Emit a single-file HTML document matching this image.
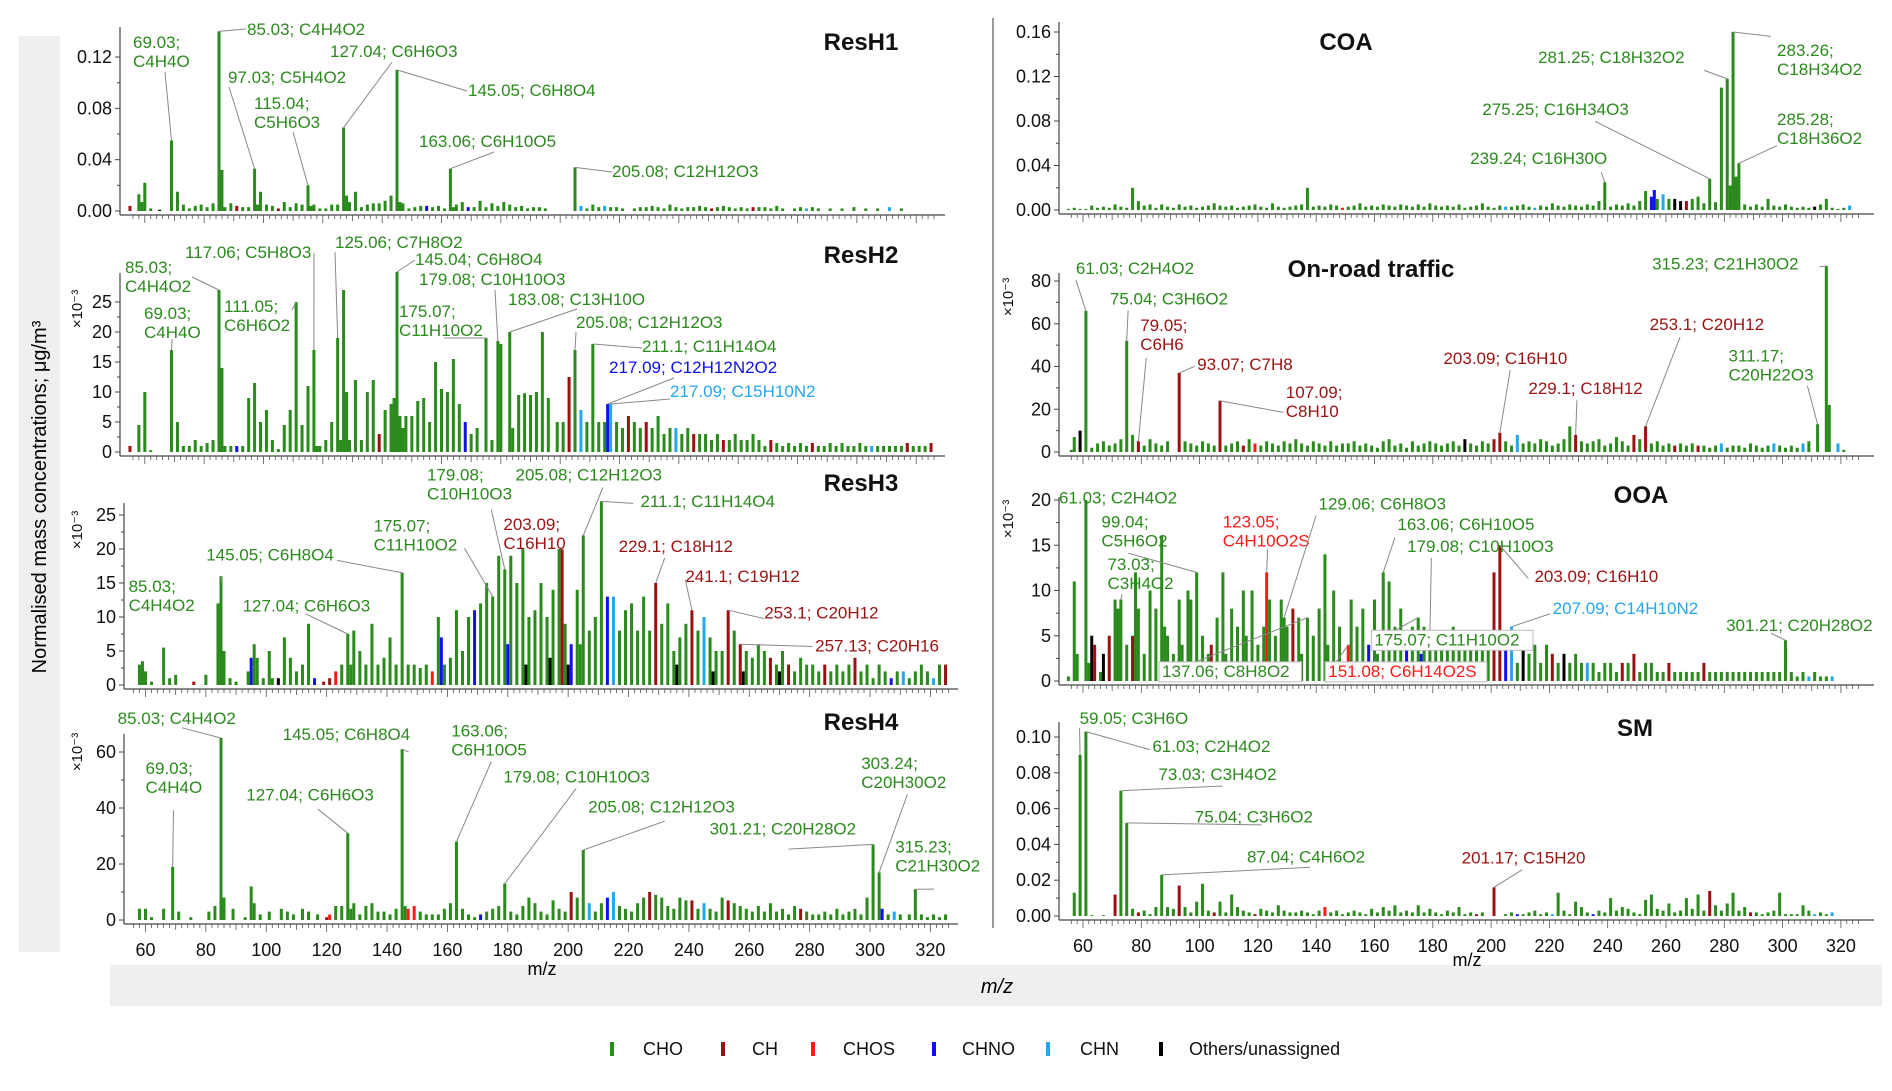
<!DOCTYPE html>
<html><head><meta charset="utf-8"><style>
html,body{margin:0;padding:0;background:#fff;}
svg{display:block;font-family:"Liberation Sans",sans-serif;}
</style></head><body>
<svg id="chart" width="1892" height="1091" viewBox="0 0 1892 1091" xmlns="http://www.w3.org/2000/svg">
<rect x="19" y="36" width="41" height="916" fill="#efefef"/>
<rect x="110" y="965" width="1772" height="41" fill="#efefef"/>
<line x1="993" y1="18" x2="993" y2="928" stroke="#999" stroke-width="2"/>
<text transform="translate(46,497) rotate(-90)" text-anchor="middle" font-size="20">Normalised mass concentrations; μg/m³</text>
<text x="542" y="975" text-anchor="middle" font-size="18">m/z</text>
<text x="1467" y="966" text-anchor="middle" font-size="18">m/z</text>
<text x="997" y="993" text-anchor="middle" font-size="20" font-style="italic">m/z</text>
<g id="panels"></g>
<g id="legend"></g>
</svg>
<script>
// ---------- data (values in panel display units; ResH1/COA/SM in 1e-3 μg/m3) ----------
const resh1Bars=[[55,4,'r'],[58,13],[59,7],[60,22],[62,2],[65,1,'k'],[69,55],[71,15],[73,5],[75,2],[77,4],[79,5],[81,3],[83,6],[85,140],[86,32],[87,3],[89,6],[91,4,'r'],[93,3],[95,3],[97,33],[98,5],[99,15],[101,5],[103,4],[105,2,'r'],[107,7],[109,3],[111,6],[113,5],[115,20],[116,4],[117,5],[119,2],[121,2],[123,5],[125,5],[127,65],[128,12],[129,7],[131,15],[133,3],[135,5],[137,6],[139,6],[141,8],[143,12],[145,110],[146,7],[147,6],[149,2],[151,3],[153,4],[155,4,'n'],[157,3],[159,4],[161,2],[163,33],[164,3],[165,5],[167,7],[169,3,'n'],[171,3],[173,8],[175,3],[177,6],[179,4],[181,7],[183,5],[185,3],[187,4],[189,2],[191,3],[193,3],[195,2],[205,34],[207,4,'h'],[209,2],[211,5],[213,3],[215,4,'h'],[217,3],[219,3],[221,2],[225,2],[227,3],[229,3],[231,4],[233,3],[235,2],[237,5],[239,3],[241,2],[243,3],[245,3],[247,4],[249,3],[251,2,'r'],[253,3],[255,4],[257,3],[259,2],[261,3],[263,2],[265,3,'r'],[267,3],[269,3],[271,2],[273,4],[275,2],[279,2],[281,3],[283,2,'h'],[285,3],[287,2],[291,2],[295,2],[299,3],[303,2],[307,2],[311,3,'h'],[315,2]];
const resh2Bars=[[55,1,'r'],[58,4.5],[60,10],[62,0.3],[69,17],[71,5],[73,1],[75,1],[77,2],[79,1],[81,1.5],[83,2],[85,27],[86,14],[87,1],[89,1],[91,1,'n'],[93,1],[95,9],[97,11.5],[99,5],[101,7],[103,2],[105,0.5],[107,4.5],[109,7],[111,25],[113,4.5],[115,11],[117,17],[118,1],[119,1],[121,2],[123,5],[125,19],[126,2],[127,27],[128,10],[129,2],[131,12],[133,2],[135,10],[137,12],[139,3,'r'],[141,7],[143,8],[144,9],[145,30],[146,6],[147,4],[148,6],[150,6],[152,8.5],[154,9],[156,5],[158,15],[160,10.5],[162,10],[164,15.5],[166,8],[168,5,'n'],[170,3],[172,4],[175,19],[177,2],[179,18.5],[180,18],[183,20],[184,4],[186,9.5],[188,9.8],[190,9.5],[192,10],[194,20],[196,9],[199,5],[201,5],[203,12.5,'r'],[205,17],[207,7,'h'],[209,5],[211,18],[213,5],[215,5],[216,8,'n'],[217,8,'h'],[219,5],[221,4],[223,6,'r'],[225,5],[227,4],[229,5,'r'],[231,4],[233,6],[235,3],[237,4],[239,4,'h'],[241,3],[243,4],[245,3,'r'],[247,3],[249,3],[251,2],[253,3],[255,2,'r'],[257,2],[259,3],[261,2],[263,2],[265,3],[267,2],[269,1],[271,2,'r'],[273,1.5],[275,1],[277,1.5],[279,1],[281,1.5],[283,1],[285,1.5,'r'],[287,1],[289,1],[291,1.5],[293,1],[295,1.5],[297,1],[299,1],[301,1.5],[303,1],[305,1,'h'],[307,1],[309,1],[311,1],[313,1],[315,1],[317,1.5,'r'],[319,1],[321,1],[323,1],[325,1.5,'r']];
const resh3Bars=[[58,3],[59,3.5],[60,2],[62,0.5],[66,5.5],[68,1],[70,1.5],[76,0.5,'r'],[80,1.5],[84,12],[85,16],[86,5],[88,1],[90,0.5],[94,2],[95,4,'n'],[96,6],[97,4],[99,1],[101,5],[102,1],[104,1,'k'],[106,7],[108,4],[110,2],[112,3],[114,9],[116,1,'n'],[119,0.5,'r'],[121,1,'r'],[123,2,'s'],[125,3],[127,7.5],[128,3],[129,8],[131,5],[133,3],[135,9],[137,3],[139,4],[141,7],[143,3],[145,16.5],[147,3],[149,3],[151,2.5],[153,3],[155,2,'s'],[157,10],[158,7,'n'],[159,3],[161,4],[163,11],[165,5],[167,10],[169,11,'n'],[171,12],[173,15],[175,13],[177,19],[179,17],[180,6,'n'],[181,19],[183,15],[185,20],[186,3,'k'],[187,10],[189,11],[191,15],[193,10],[194,4,'k'],[195,14],[197,20],[198,20,'r'],[199,9],[200,3,'k'],[201,6,'n'],[203,14],[204,6],[205,22],[207,8],[209,10],[211,27],[213,13,'n'],[215,13,'h'],[217,8],[219,11],[221,12],[223,8],[225,13],[227,8],[229,15,'r'],[231,9],[233,12],[235,5],[236,3,'k'],[237,7],[239,9],[241,11,'r'],[243,8],[245,10,'h'],[247,7],[248,2,'k'],[249,5],[251,5],[253,11,'r'],[255,8],[257,6,'r'],[258,2,'k'],[259,5],[261,4],[263,6],[265,5],[267,4,'r'],[269,3],[270,2,'k'],[271,5],[273,3,'r'],[275,2],[277,4],[279,3],[281,3],[283,2],[285,3,'r'],[287,2],[289,3],[291,2],[293,3],[295,4,'r'],[297,2],[299,3],[301,1],[303,3],[305,2],[307,1,'n'],[309,2],[311,2,'h'],[313,1],[315,2],[317,3],[319,2],[321,1,'h'],[323,3],[325,3,'r']];
const resh4Bars=[[58,4],[60,4],[62,1],[66,4],[69,19],[71,3],[75,1],[81,3],[83,5],[85,65],[86,8],[89,4],[93,1],[95,12],[96,6],[98,2],[101,3],[105,4],[107,3],[109,2],[112,4],[114,3],[117,2],[120,1,'r'],[121,2,'s'],[123,5],[125,5],[127,31],[128,4],[129,6],[131,2],[133,5],[135,6],[137,3],[139,3],[141,2],[143,4],[145,61],[146,5],[147,4,'s'],[149,5,'s'],[151,3],[153,2],[155,2],[157,2],[159,4],[161,6],[163,28],[165,4],[167,2],[169,1],[171,2,'n'],[173,3],[175,4],[177,5],[179,13],[181,3],[183,2],[185,5],[187,8],[189,6],[191,3],[193,2],[195,7],[197,4],[199,3],[201,10,'r'],[203,8],[205,25],[207,6,'h'],[209,3],[211,6],[213,8,'n'],[215,10,'h'],[217,5],[219,4],[221,3],[223,6],[225,8],[227,10,'r'],[229,9],[231,8],[233,5],[235,4],[237,8],[239,7],[241,7,'r'],[243,4],[245,6,'h'],[247,4],[249,3],[251,8],[253,7,'r'],[255,6],[257,5],[259,4],[261,3],[263,5],[265,3],[267,6],[269,3],[271,4],[273,2],[275,5],[277,4,'r'],[279,3],[281,2],[283,2],[285,3],[287,2],[289,4],[291,2],[293,3],[295,4],[297,2],[299,8],[301,27],[303,17],[304,4,'n'],[306,2],[308,3,'h'],[310,2],[313,2],[315,11],[317,2],[319,1],[321,2],[323,1],[325,2]];
const coaBars=[[55,1],[57,2],[59,1],[61,1],[63,4],[65,2],[67,3],[69,2],[71,5],[73,3],[75,2],[77,20],[79,8],[81,4],[83,5],[85,2],[87,5],[89,3],[91,2],[93,5],[95,3],[97,4],[99,2],[101,3],[103,4],[105,6],[107,4],[109,3],[111,4],[113,2],[115,3],[117,4],[119,5],[121,3],[123,2],[125,6],[127,3],[129,2],[131,3],[133,4],[135,5],[137,20],[139,3],[141,4],[143,3],[145,5],[147,4],[149,2,'s'],[151,3],[153,4],[155,6],[157,3],[159,4],[161,3],[163,5],[165,4],[167,3],[169,5],[171,4],[173,3],[175,5],[177,3],[179,6],[181,4],[183,3],[185,4],[187,3],[189,5],[191,2],[193,3],[195,4],[197,6],[199,3],[201,2],[203,4],[205,3,'h'],[207,3],[209,4],[211,5],[213,3],[215,2,'h'],[217,4],[219,3],[221,6],[223,4],[225,3],[227,5],[229,4],[231,3],[233,5],[235,4],[237,8],[239,25],[241,3],[243,5],[245,4],[247,6],[249,4],[251,8],[253,17],[255,12,'n'],[256,18,'n'],[257,10],[259,14,'h'],[261,10],[263,10,'k'],[265,8,'k'],[267,8,'r'],[269,10],[271,12],[273,6],[275,28],[277,7],[279,110],[281,118],[282,22],[283,160],[284,30],[285,42],[287,5],[289,3],[291,5],[293,3],[295,10],[297,4],[299,3],[301,5],[303,3],[305,2],[307,3],[309,2],[311,3,'k'],[313,5],[315,10],[317,2],[319,1],[321,2],[323,4,'h']];
const roadBars=[[56,1],[57,7],[59,10,'k'],[61,66],[63,2],[65,4],[67,5],[69,3],[71,4],[73,6],[75,52],[77,8],[79,5,'r'],[81,3],[83,6],[85,4],[87,3],[89,5],[93,37,'r'],[95,5],[97,4],[99,3],[101,5],[103,4],[105,3],[107,24,'r'],[109,3],[111,4],[113,5],[115,3,'r'],[117,6],[119,4,'s'],[121,3],[123,5],[125,4],[127,3],[129,5],[131,4],[133,6],[135,4],[137,3],[139,5],[141,4],[143,3],[145,5],[147,3],[149,4],[151,4],[153,5],[155,3],[157,4],[159,3],[161,2],[163,5],[165,6],[167,3],[169,4],[171,2],[173,5],[175,3],[177,4],[179,5],[181,4],[183,3],[185,4],[187,5],[189,3],[191,6,'k'],[193,4],[195,3],[197,5],[199,4],[201,6,'r'],[203,9,'r'],[205,5],[207,3],[209,8,'h'],[211,4],[213,5],[215,4],[217,6],[219,5],[221,3],[223,4],[225,6],[227,12],[229,8,'r'],[231,5],[233,4],[235,5],[237,6],[239,3],[241,4],[243,7],[245,5],[247,3],[249,8,'r'],[251,6],[253,12,'r'],[255,4],[257,5],[259,3],[261,4],[263,3,'r'],[265,4],[267,3],[269,4],[271,3,'r'],[273,3],[275,2],[277,3],[279,4,'h'],[281,2],[283,3],[285,3],[287,2],[289,4],[291,3],[293,2],[295,3],[297,4,'h'],[299,3],[301,2],[303,3],[305,2],[307,4,'h'],[309,5],[312,13],[315,87],[316,22],[319,4,'h'],[321,1]];
const ooaBars=[[55,0.5],[57,11],[58,3],[61,20],[62,2],[63,5,'k'],[64,4,'r'],[66,1],[67,3,'k'],[69,5,'r'],[71,9],[72,8],[73,9],[75,4],[77,5,'r'],[78,12],[79,8],[81,3],[83,10],[85,8],[87,16],[88,6],[89,5],[91,3],[93,9],[94,4],[96,10],[97,9],[99,12],[101,5],[103,3],[104,4,'r'],[106,7],[108,12],[109,3],[111,8],[113,6],[115,10],[116,5],[118,10],[120,4],[122,6],[123,12,'s'],[124,9],[126,5],[128,9],[129,7],[130,6],[132,8,'r'],[134,7],[135,3],[137,7],[139,5],[141,8],[143,14],[144,4],[146,10],[148,6],[151,4,'s'],[152,9],[154,6],[156,8],[158,4,'n'],[160,9],[161,3],[163,12],[165,11],[167,6],[169,8],[171,4,'n'],[173,6],[175,7],[176,3,'n'],[177,6],[179,5],[181,4],[183,5],[185,5],[187,6],[189,4],[191,5],[193,4],[195,5],[197,4],[199,4],[201,12,'r'],[203,15,'r'],[205,5,'n'],[207,6,'h'],[209,2],[211,5,'k'],[213,3],[215,4],[217,2],[219,4],[221,3,'r'],[223,2],[225,3,'k'],[227,2],[229,3],[231,2],[233,2,'h'],[235,2],[237,1],[239,2],[241,2],[243,1],[245,2,'r'],[247,2],[249,3,'r'],[251,1],[253,2],[255,2],[257,1],[259,1],[261,2,'r'],[263,1],[265,1],[267,1],[269,1],[271,1],[273,2,'r'],[275,1],[277,1],[279,1],[281,1],[283,1],[285,1],[287,1],[289,1],[291,1],[293,1],[295,1],[297,1],[299,1],[301,4.5],[303,1],[305,0.5],[307,1],[309,0.5,'h'],[311,1],[313,0.5],[315,0.5],[317,0.5,'h']];
const smBars=[[57,13],[59,90],[61,103],[63,0.5],[67,0.5],[71,12,'r'],[73,70],[75,52],[77,4],[79,2,'r'],[81,3],[83,1],[85,5],[87,23],[89,5],[91,4],[93,17,'r'],[95,5],[97,2],[99,8],[101,18],[103,3],[105,2,'r'],[107,8],[109,2],[111,12],[113,5],[115,3],[117,2],[119,1,'r'],[121,4],[123,3],[125,2],[127,6],[129,3],[131,2],[133,2],[135,3],[137,2],[139,1],[141,3],[143,5,'s'],[145,2],[147,3],[149,1],[151,2],[153,3],[155,2],[157,1],[159,4],[161,2],[163,5],[165,3],[167,6],[169,2],[171,3],[173,2],[175,6],[177,2],[179,4],[181,2],[183,1],[185,3],[187,2],[189,5],[191,1],[193,2],[195,1,'r'],[197,2],[201,16,'r'],[205,1],[207,2],[209,1,'n'],[211,1],[213,2],[215,3],[217,1],[219,2],[221,1,'h'],[223,13],[225,3],[227,1],[229,8],[231,5],[233,2],[235,1,'n'],[237,3],[239,2],[241,10],[243,3],[245,5],[247,4],[249,2],[251,1],[253,9],[255,12],[257,4],[259,3],[261,7],[263,2],[265,3],[267,10],[269,4],[271,12],[273,3],[275,14,'r'],[277,6],[279,3],[281,7],[283,13],[285,3],[287,5],[289,2,'r'],[291,2],[293,1],[295,2],[297,3],[299,13],[301,1],[303,1],[305,1],[307,6],[309,3],[311,1,'h'],[313,2],[315,1],[317,2,'h']];

const xTickValues=[60,80,100,120,140,160,180,200,220,240,260,280,300,320];
const resh1Ticks=[0,40,80,120]; const resh1TickLabels=["0.00","0.04","0.08","0.12"];
const resh2Ticks=[0,5,10,15,20,25]; const resh2TickLabels=["0","5","10","15","20","25"];
const resh3Ticks=[0,5,10,15,20,25]; const resh3TickLabels=["0","5","10","15","20","25"];
const resh4Ticks=[0,20,40,60]; const resh4TickLabels=["0","20","40","60"];
const coaTicks=[0,40,80,120,160]; const coaTickLabels=["0.00","0.04","0.08","0.12","0.16"];
const roadTicks=[0,20,40,60,80]; const roadTickLabels=["0","20","40","60","80"];
const ooaTicks=[0,5,10,15,20]; const ooaTickLabels=["0","5","10","15","20"];
const smTicks=[0,20,40,60,80,100]; const smTickLabels=["0.00","0.02","0.04","0.06","0.08","0.10"];

// labels: [lines, colorKey, textX, textY, leaderX, leaderY, targetMz, boxed]
const resh1Labels=[[["85.03; C4H4O2"],'g',247,35,246,29,85],[["69.03;","C4H4O"],'g',133,48,165,72,69],[["97.03; C5H4O2"],'g',228,83,229,87,97],[["115.04;","C5H6O3"],'g',254,109,293,132,115],[["127.04; C6H6O3"],'g',330,57,392,62,127],[["145.05; C6H8O4"],'g',468,96,467,91,145],[["163.06; C6H10O5"],'g',419,147,494,152,163],[["205.08; C12H12O3"],'g',612,177,612,172,205]];
const resh2Labels=[[["125.06; C7H8O2"],'g',335,248,335,252,125],[["117.06; C5H8O3"],'g',185,258,314,253,117],[["145.04; C6H8O4"],'g',415,265,415,260,145],[["85.03;","C4H4O2"],'g',125,273,192,277,85],[["179.08; C10H10O3"],'g',419,285,495,290,179],[["183.08; C13H10O"],'g',508,305,577,309,183],[["69.03;","C4H4O"],'g',144,319,172,339,69],[["111.05;","C6H6O2"],'g',224,312,292,310,111],[["175.07;","C11H10O2"],'g',399,317,444,338,175],[["205.08; C12H12O3"],'g',576,328,576,332,205],[["211.1; C11H14O4"],'g',642,352,642,348,211],[["217.09; C12H12N2O2"],'n',609,373,674,378,216],[["217.09; C15H10N2"],'h',670,397,670,399,217]];
const resh3Labels=[[["179.08;","C10H10O3"],'g',352,396,405,420,179],[["205.08; C12H12O3"],'g',425,396,497,402,205],[["211.1; C11H14O4"],'g',528,418,522,415,211],[["175.07;","C11H10O2"],'g',308,438,383,452,175],[["203.09;","C16H10"],'r',415,437,465,455,198],[["145.05; C6H8O4"],'g',170,462,278,462,145],[["229.1; C18H12"],'r',510,455,548,460,229],[["241.1; C19H12"],'r',565,480,565,478,241],[["85.03;","C4H4O2"],'g',106,488,183,480,85],[["127.04; C6H6O3"],'g',200,504,252,506,127],[["253.1; C20H12"],'r',630,510,630,510,253],[["257.13; C20H16"],'r',672,537,670,533,257]];
const resh4Labels=[[["85.03; C4H4O2"],'g',97,597,150,600,85],[["145.05; C6H8O4"],'g',233,610,337,620,145],[["163.06;","C6H10O5"],'g',372,607,405,628,163],[["69.03;","C4H4O"],'g',120,638,143,668,69],[["127.04; C6H6O3"],'g',203,660,262,667,127],[["179.08; C10H10O3"],'g',415,645,475,650,179],[["205.08; C12H12O3"],'g',485,670,548,677,205],[["303.24;","C20H30O2"],'g',710,634,748,655,303],[["301.21; C20H28O2"],'g',585,688,650,700,301],[["315.23;","C21H30O2"],'g',738,703,770,733,315]];
const coaLabels=[[["281.25; C18H32O2"],'g',1268,52,1405,58,281],[["283.26;","C18H34O2"],'g',1465,46,1460,30,283],[["275.25; C16H34O3"],'g',1222,95,1315,100,275],[["285.28;","C18H36O2"],'g',1465,103,1465,120,285],[["239.24; C16H30O"],'g',1212,135,1320,142,239]];
const roadLabels=[[["61.03; C2H4O2"],'g',887,226,887,231,61],[["75.04; C3H6O2"],'g',915,251,930,256,75],[["79.05;","C6H6"],'r',940,273,945,295,79],[["93.07; C7H8"],'r',987,305,985,302,93],[["107.09;","C8H10"],'r',1060,328,1058,340,107],[["203.09; C16H10"],'r',1190,300,1245,305,203],[["229.1; C18H12"],'r',1260,325,1300,330,229],[["253.1; C20H12"],'r',1360,272,1385,278,253],[["315.23; C21H30O2"],'g',1362,222,1500,220,315],[["311.17;","C20H22O3"],'g',1425,298,1490,318,312]];
const ooaLabels=[[["61.03; C2H4O2"],'g',873,415,895,412,61],[["99.04;","C5H6O2"],'g',908,435,930,456,99],[["123.05;","C4H10O2S"],'s',1008,435,1045,453,123],[["129.06; C6H8O3"],'g',1087,420,1085,425,129],[["163.06; C6H10O5"],'g',1152,437,1150,443,163],[["179.08; C10H10O3"],'g',1160,455,1180,460,179],[["73.03;","C3H4O2"],'g',913,470,925,490,73],[["203.09; C16H10"],'r',1265,480,1260,477,203],[["207.09; C14H10N2"],'h',1280,506,1278,506,207],[["301.21; C20H28O2"],'g',1423,520,1460,522,301],[["175.07; C11H10O2"],'g',1133,532,1135,528,175,1],[["137.06; C8H8O2"],'g',958,558,980,548,137,1],[["151.08; C6H14O2S"],'s',1095,558,1100,548,151,1]];
const smLabels=[[["59.05; C3H6O"],'g',890,597,890,600,59],[["61.03; C2H4O2"],'g',950,620,948,618,61],[["73.03; C3H4O2"],'g',955,643,1008,648,73],[["75.04; C3H6O2"],'g',985,678,1040,680,75],[["87.04; C4H6O2"],'g',1028,711,1080,715,87],[["201.17; C15H20"],'r',1205,712,1255,717,201]];

// ---------- rendering ----------
const COL={g:'#2a8a1c',r:'#9b1111',s:'#ff1a1a',n:'#1010ee',h:'#22a8f0',k:'#000000'};
const NS='http://www.w3.org/2000/svg';
const S=1.213;
const root=document.getElementById('panels');
function mk(tag,attrs,parent){const e=document.createElementNS(NS,tag);for(const k in attrs)e.setAttribute(k,attrs[k]);(parent||root).appendChild(e);return e;}

const panels=[
 {id:'resh1',title:'ResH1',tx:861,ty:50,data:resh1Bars,ticks:resh1Ticks,tl:resh1TickLabels,labels:resh1Labels,ls:1,x60:144.8,ppm:2.967,ax0:120,ax1:945,y0:211,ppu:1.283,top:27,expo:null,xl:false},
 {id:'resh2',title:'ResH2',tx:861,ty:263,data:resh2Bars,ticks:resh2Ticks,tl:resh2TickLabels,labels:resh2Labels,ls:1,x60:144.8,ppm:2.967,ax0:120,ax1:945,y0:452,ppu:6,top:273,expo:[82,309],xl:false},
 {id:'resh3',title:'ResH3',tx:861,ty:491,data:resh3Bars,ticks:resh3Ticks,tl:resh3TickLabels,labels:resh3Labels,ls:S,x60:145.5,ppm:3.019,ax0:124,ax1:958,y0:685,ppu:6.8,top:503,expo:[82,530],xl:false},
 {id:'resh4',title:'ResH4',tx:861,ty:730,data:resh4Bars,ticks:resh4Ticks,tl:resh4TickLabels,labels:resh4Labels,ls:S,x60:145.5,ppm:3.019,ax0:124,ax1:958,y0:920,ppu:2.8,top:734,expo:[82,752],xl:true},
 {id:'coa',title:'COA',tx:1346,ty:50,data:coaBars,ticks:coaTicks,tl:coaTickLabels,labels:coaLabels,ls:S,x60:1083,ppm:2.915,ax0:1059,ax1:1874,y0:210,ppu:1.1125,top:22,expo:null,xl:false},
 {id:'road',title:'On-road traffic',tx:1371,ty:277,data:roadBars,ticks:roadTicks,tl:roadTickLabels,labels:roadLabels,ls:S,x60:1083,ppm:2.915,ax0:1059,ax1:1874,y0:452,ppu:2.1375,top:273,expo:[1013,297],xl:false},
 {id:'ooa',title:'OOA',tx:1641,ty:503,data:ooaBars,ticks:ooaTicks,tl:ooaTickLabels,labels:ooaLabels,ls:S,x60:1083,ppm:2.915,ax0:1059,ax1:1874,y0:681,ppu:9.05,top:497,expo:[1013,519],xl:false},
 {id:'sm',title:'SM',tx:1635,ty:736,data:smBars,ticks:smTicks,tl:smTickLabels,labels:smLabels,ls:S,x60:1083,ppm:2.915,ax0:1059,ax1:1874,y0:916,ppu:1.79,top:722,expo:null,xl:true}
];

panels.forEach(p=>{
 const g=mk('g',{});
 
 
 const X=m=>p.x60+(m-60)*p.ppm;
 const Y=v=>p.y0-v*p.ppu;
 const axY=p.y0+4;
 p.data.forEach(d=>{
  const v=d[1],c=d[2]||'g';
  const r=mk('rect',{x:(X(d[0])-1.5).toFixed(2),y:Y(v).toFixed(2),width:3,height:Math.max(0.5,v*p.ppu).toFixed(2),fill:COL[c]},g);
  
  
 });
 const ya=mk('line',{x1:p.ax0,y1:p.top,x2:p.ax0,y2:axY,stroke:'#444','stroke-width':1.2},g);
 
 
 p.ticks.forEach((t,i)=>{
  mk('line',{x1:p.ax0-5,y1:Y(t),x2:p.ax0,y2:Y(t),stroke:'#444','stroke-width':1},g);
  if(i<p.ticks.length-1){const mid=(t+p.ticks[i+1])/2;mk('line',{x1:p.ax0-3,y1:Y(mid),x2:p.ax0,y2:Y(mid),stroke:'#444','stroke-width':1},g);}
  const tl=mk('text',{x:p.ax0-8,y:Y(t)+6,'text-anchor':'end','font-size':18,fill:'#111'},g);
  tl.textContent=p.tl[i];
  
  
 });
 const xa=mk('line',{x1:p.ax0,y1:axY,x2:p.ax1,y2:axY,stroke:'#444','stroke-width':1.2},g);
 
 
 for(let m=56;m<=326;m+=2){
  const len=(m%20===0)?8:(m%10===0?6:4);
  mk('line',{x1:X(m),y1:axY,x2:X(m),y2:axY+len,stroke:'#555','stroke-width':0.8},g);
 }
 if(p.xl){xTickValues.forEach(m=>{
  const t=mk('text',{x:X(m),y:axY+32,'text-anchor':'middle','font-size':18,fill:'#111'},g);
  t.textContent=String(m);
  
  
 });}
 if(p.expo){
  const e=mk('text',{transform:`translate(${p.expo[0]},${p.expo[1]}) rotate(-90)`,'text-anchor':'middle','font-size':15,fill:'#111'},g);
  e.textContent='×10⁻³';
  
  
 }
 const ti=mk('text',{x:p.tx,y:p.ty,'text-anchor':'middle','font-size':24,'font-weight':'bold',fill:'#111'},g);
 ti.textContent=p.title;
 
 
 p.labels.forEach(L=>{
  const lines=L[0],col=COL[L[1]],s=p.ls;
  const tx=L[2]*s,ty=L[3]*s,lx=L[4]*s,ly=L[5]*s,mz=L[6];
  const d=p.data.find(q=>q[0]===mz);
  const bv=d?d[1]:0;
  const ld=mk('line',{x1:lx,y1:ly,x2:X(mz),y2:Y(bv),stroke:'#888','stroke-width':1},g);
  
  
  if(L[7]){
   const w=lines[0].length*9.6+8;
   const bx=mk('rect',{x:tx-3,y:ty-15,width:w,height:20,fill:'#fff',stroke:'#bbb','stroke-width':1},g);
   
   
  }
  lines.forEach((ln,i)=>{
   const t=mk('text',{x:tx,y:ty+i*19,'font-size':17,fill:col},g);
   t.textContent=ln;
   
   
  });
 });
});

const legendItems=[['CHO','g',612,643],['CH','r',723,752],['CHOS','s',813,843],['CHNO','n',934,962],['CHN','h',1048,1080],['Others/unassigned','k',1161,1189]];
const lg=document.getElementById('legend');
legendItems.forEach(it=>{
 const m=mk('rect',{x:it[2]-2,y:1042,width:4,height:14,fill:COL[it[1]]},lg);
 
 
 const t=mk('text',{x:it[3],y:1055,'font-size':18,fill:'#111'},lg);
 t.textContent=it[0];
 
 
});
</script>
</body></html>
